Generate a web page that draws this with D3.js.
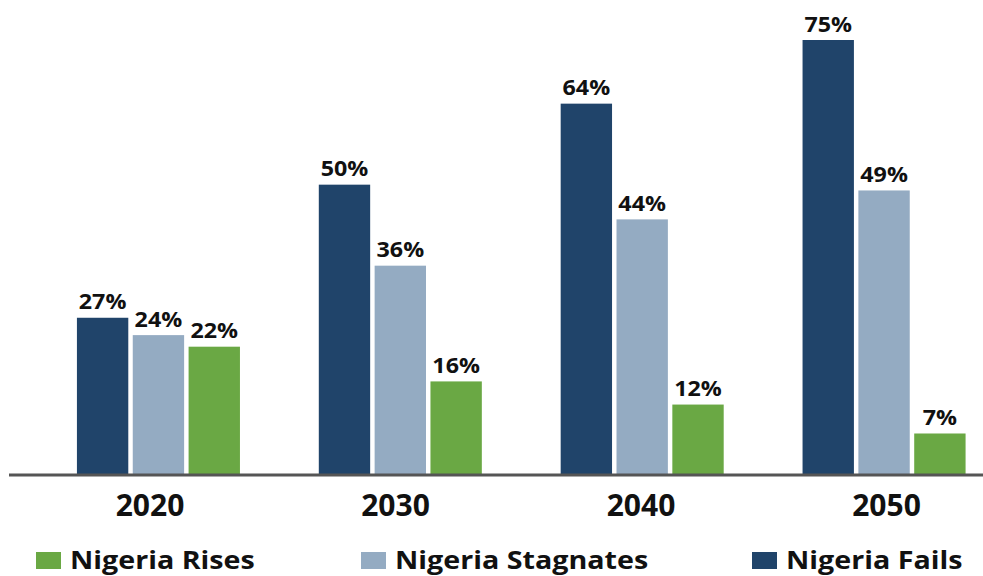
<!DOCTYPE html>
<html>
<head>
<meta charset="utf-8">
<script src="https://cdn.jsdelivr.net/npm/d3@7"></script>
<style>
  html, body { margin: 0; padding: 0; background: #ffffff; }
  svg { display: block; }
  text { font-family: "Open Sans", "DejaVu Sans", sans-serif; font-weight: 700; fill: #111; }
</style>
</head>
<body>
<svg id="chart" width="983" height="576"></svg>
<script>
const years = ["2020", "2030", "2040", "2050"];
const seriesNames = ["Nigeria Fails", "Nigeria Stagnates", "Nigeria Rises"];
const failsValues = [27, 50, 64, 75];
const stagnatesValues = [24, 36, 44, 49];
const risesValues = [22, 16, 12, 7];
const seriesColors = ["#20446a", "#94abc2", "#6aa844"];
const legendOrder = ["Nigeria Rises", "Nigeria Stagnates", "Nigeria Fails"];

const W = 983, H = 576;
const baseY = 474;
const svg = d3.select("#chart");

const x0 = d3.scaleBand().domain(years).range([37.5, 1005]).paddingInner(0.326).paddingOuter(0.163);
const x1 = d3.scaleBand().domain(seriesNames).range([0, x0.bandwidth()]).paddingInner(0.08);
const xLabel = d3.scalePoint().domain(years).range([149.5, 886]);
const y = d3.scaleLinear().domain([0, 75]).range([baseY, 40]);
const color = d3.scaleOrdinal().domain(seriesNames).range(seriesColors);

const valuesBySeries = {
  "Nigeria Fails": failsValues,
  "Nigeria Stagnates": stagnatesValues,
  "Nigeria Rises": risesValues
};

const rows = [];
years.forEach((yr, i) => {
  seriesNames.forEach(s => rows.push({ year: yr, series: s, value: valuesBySeries[s][i] }));
});

const g = svg.append("g");
g.selectAll("rect.bar").data(rows).join("rect")
  .attr("class", "bar")
  .attr("x", d => x0(d.year) + x1(d.series))
  .attr("y", d => y(d.value))
  .attr("width", x1.bandwidth())
  .attr("height", d => baseY - y(d.value))
  .attr("fill", d => color(d.series));

g.selectAll("text.val").data(rows).join("text")
  .attr("class", "val")
  .attr("transform", d => `translate(${x0(d.year) + x1(d.series) + x1.bandwidth() / 2},${y(d.value) - 8.5}) scale(1.06,1)`)
  .attr("text-anchor", "middle")
  .style("font-size", "22px")
  .text(d => d.value + "%");

// baseline axis
const xAxis = d3.axisBottom(xLabel).tickSize(0).tickPadding(0);
const axisG = svg.append("g").attr("transform", `translate(0,${baseY})`).call(xAxis);
axisG.select(".domain").remove();
axisG.append("line").attr("x1", 9).attr("x2", W).attr("y1", 1).attr("y2", 1)
  .attr("stroke", "#555").attr("stroke-width", 3);
axisG.selectAll(".tick text")
  .attr("dy", null).attr("y", 42)
  .style("font-size", "30px")
  .style("font-family", "'Open Sans', sans-serif")
  .style("font-weight", 700)
  .attr("fill", "#111");

// legend
const legendX = { "Nigeria Rises": 36, "Nigeria Stagnates": 361, "Nigeria Fails": 752 };
const leg = svg.append("g");
const items = leg.selectAll("g").data(legendOrder).join("g")
  .attr("transform", d => `translate(${legendX[d]},552)`);
items.append("rect").attr("width", 25).attr("height", 17).attr("fill", d => color(d));
items.append("text")
  .attr("transform", "translate(34,16.5) scale(1.17,1)")
  .style("font-size", "24.5px")
  .text(d => d);
</script>
</body>
</html>
